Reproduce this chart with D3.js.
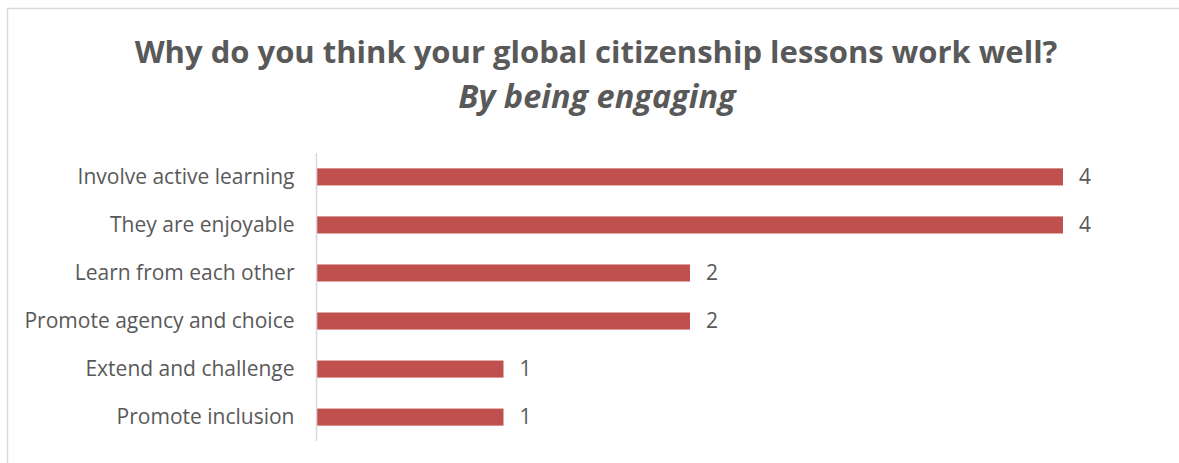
<!DOCTYPE html>
<html>
<head>
<meta charset="utf-8">
<script src="https://cdn.jsdelivr.net/npm/d3@7"></script>
<style>
  html, body { margin: 0; padding: 0; background: #fff; }
  svg { display: block; }
</style>
</head>
<body>
<svg id="chart" width="1179" height="463"></svg>
<script>
// Reasons given, top to bottom, with the number of responses for each
const categories = [
  "Involve active learning",
  "They are enjoyable",
  "Learn from each other",
  "Promote agency and choice",
  "Extend and challenge",
  "Promote inclusion"
];
const counts = [4, 4, 2, 2, 1, 1];
const titleText = "Why do you think your global citizenship lessons work well?";
const subtitleText = "By being engaging";

const svg = d3.select("#chart");
const W = 1179, H = 463;
const font = "'Open Sans', 'Noto Sans', sans-serif";
const textColor = "#595959";

// chart frame
svg.append("rect")
  .attr("x", 7.5).attr("y", 8.5)
  .attr("width", W + 10).attr("height", H + 10)
  .attr("fill", "#fff").attr("stroke", "#d9d9d9").attr("stroke-width", 1.5);

// titles
svg.append("text")
  .attr("x", 596).attr("y", 63)
  .attr("text-anchor", "middle")
  .attr("font-family", font).attr("font-weight", 700).attr("font-size", 31)
  .attr("fill", textColor)
  .text(titleText);
svg.append("text")
  .attr("x", 597).attr("y", 108)
  .attr("text-anchor", "middle")
  .attr("font-family", font).attr("font-weight", 700).attr("font-style", "italic").attr("font-size", 32.5)
  .attr("fill", textColor)
  .text(subtitleText);

const plot = { left: 317, top: 153, bottom: 441 };

const x = d3.scaleLinear().domain([0, 4]).range([plot.left, 1063]);
const y = d3.scaleBand()
  .domain(categories)
  .range([plot.top, plot.bottom])
  .paddingInner(0.645)
  .paddingOuter(0.32);

const data = categories.map((c, i) => ({ cat: c, v: counts[i] }));

// bars
svg.append("g").selectAll("rect")
  .data(data)
  .join("rect")
  .attr("x", x(0))
  .attr("y", d => y(d.cat))
  .attr("width", d => x(d.v) - x(0))
  .attr("height", y.bandwidth())
  .attr("fill", "#c0504d");

// category axis
const yAxis = svg.append("g")
  .attr("transform", `translate(${plot.left - 0.5},0)`)
  .call(d3.axisLeft(y).tickSize(0).tickPadding(22));
yAxis.select(".domain")
  .attr("stroke", "#d9d9d9").attr("stroke-width", 1.5)
  .attr("d", `M0,${plot.top}V${plot.bottom}`);
yAxis.selectAll("text")
  .attr("font-family", font).attr("font-size", 21)
  .attr("fill", textColor)
  .attr("dy", "0.35em");

// value labels
svg.append("g").selectAll("text")
  .data(data)
  .join("text")
  .attr("x", d => x(d.v) + 16)
  .attr("y", d => y(d.cat) + y.bandwidth() / 2)
  .attr("dy", "0.35em")
  .attr("font-family", font).attr("font-size", 21)
  .attr("fill", textColor)
  .text(d => d.v);
</script>
</body>
</html>
